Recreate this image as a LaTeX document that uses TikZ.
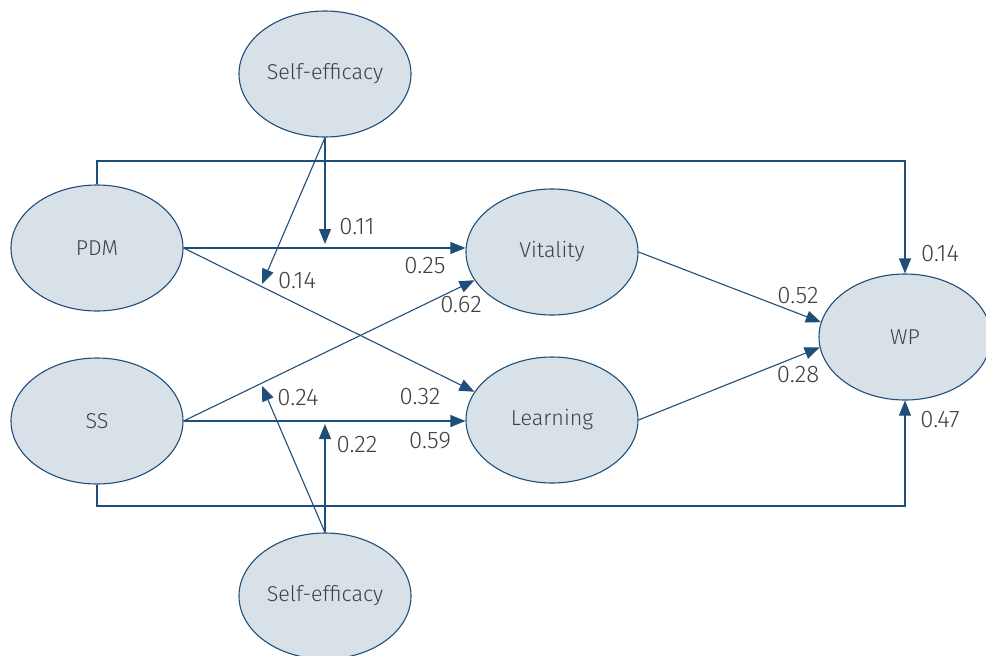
\documentclass[tikz,border=0pt]{standalone}
\usepackage{fontspec}
\setmainfont{Fira Sans}[UprightFont={* Light}]
\usetikzlibrary{shapes.geometric,arrows.meta}
\definecolor{edge}{HTML}{1F4E79}
\definecolor{fillc}{HTML}{D9E1E8}
\definecolor{txt}{HTML}{404040}
\tikzset{
  latent/.style={ellipse,draw=edge,fill=fillc,line width=1.1pt,minimum width=172pt,minimum height=126pt,inner sep=0pt,text=txt,font=\fontsize{21.5}{25}\selectfont},
  arr/.style={draw=edge,line width=1.1pt,-{Triangle[length=15pt,width=12pt]}},
  ln/.style={draw=edge,line width=1.1pt},
  coef/.style={text=txt,font=\fontsize{24}{28}\selectfont,inner sep=0pt}
}
\begin{document}
\begin{tikzpicture}[x=1pt,y=-1pt]
\useasboundingbox (0,0) rectangle (986,656);
\node[latent] (SEt) at (325,74) {Self-efficacy};
\node[latent] (PDM) at (97,248) {PDM};
\node[latent] (SS) at (97,421) {SS};
\node[latent] (Vit) at (552,252) {Vitality};
\node[latent] (Lea) at (552,420) {Learning};
\node[latent] (WP) at (905,337) {WP};
\node[latent] (SEb) at (325,596) {Self-efficacy};
\coordinate (topc) at (500,161);
\coordinate (botc) at (500,506);
\coordinate (m1) at (325,244);
\coordinate (m2) at (262,284);
\coordinate (m3) at (325,424);
\coordinate (m4) at (262,386);
% direct effects to WP
\draw[arr] (PDM.north) |- (topc) -| (WP.north);
\draw[arr] (SS.south) |- (botc) -| (WP.south);
% PDM and SS to mediators
\draw[arr] (PDM.east) -- (PDM.east -| Vit.west);
\draw[arr] (PDM.east) -- (Lea.160);
\draw[arr] (SS.east) -- (Vit.200);
\draw[arr] (SS.east) -- (SS.east -| Lea.west);
% mediators to WP
\draw[arr] (Vit.east) -- (WP.170);
\draw[arr] (Lea.east) -- (WP.187);
% moderators
\draw[arr] (SEt.south) -- (m1);
\draw[arr] (SEt.south) -- (m2);
\draw[arr] (SEb.north) -- (m3);
\draw[arr] (SEb.north) -- (m4);
% coefficients
\node[coef] (c1) at (357,227) {0.11};
\node[coef] (c2) at (297,281) {0.14};
\node[coef] (c3) at (425,266) {0.25};
\node[coef] (c4) at (461,305) {0.62};
\node[coef] (c5) at (420,397) {0.32};
\node[coef] (c6) at (298,398) {0.24};
\node[coef] (c7) at (430,441) {0.59};
\node[coef] (c8) at (357,445) {0.22};
\node[coef] (c9) at (798,296) {0.52};
\node[coef] (c10) at (798,375) {0.28};
\node[coef] (c11) at (940,254) {0.14};
\node[coef] (c12) at (940,420) {0.47};
\end{tikzpicture}
\end{document}
